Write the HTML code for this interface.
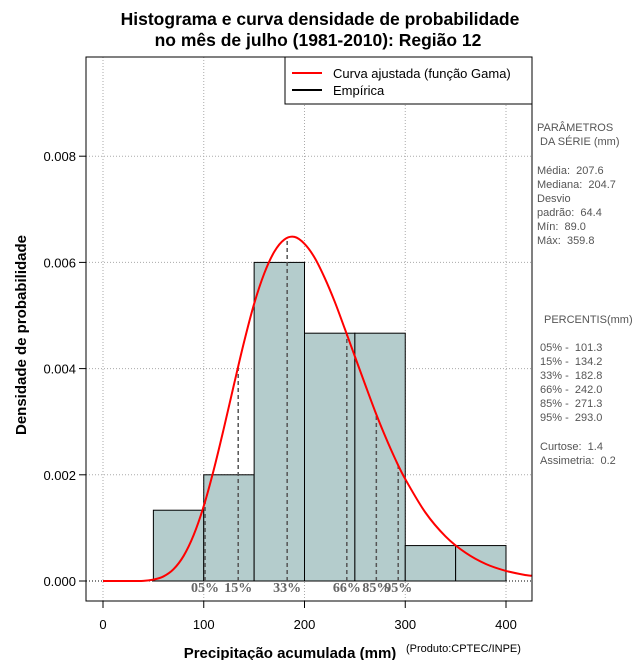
<!DOCTYPE html>
<html><head><meta charset="utf-8"><style>
body{margin:0;background:#fff;}
svg text{font-family:"Liberation Sans",sans-serif;white-space:pre;}
</style></head><body>
<svg id="c" width="640" height="660" xmlns="http://www.w3.org/2000/svg">
<text x="320" y="25" text-anchor="middle" font-size="17.5" font-weight="bold">Histograma e curva densidade de probabilidade</text>
<text x="318" y="46" text-anchor="middle" font-size="17.5" font-weight="bold">no mês de julho (1981-2010): Região 12</text>
<g id="grid"></g><g id="bars"></g><g id="pct"></g><g id="curve"></g>
<rect x="86" y="57" width="446" height="544" fill="none" stroke="#000"/>
<g id="axes"></g>
<g>
<rect x="285" y="57" width="247" height="47" fill="#fff" stroke="#000"/>
<line x1="292" y1="73" x2="322" y2="73" stroke="red" stroke-width="2"/>
<text x="333" y="78" font-size="13">Curva ajustada (função Gama)</text>
<line x1="292" y1="90" x2="322" y2="90" stroke="#000" stroke-width="2"/>
<text x="333" y="95" font-size="13">Empírica</text>
</g>
<text x="290" y="658" text-anchor="middle" font-size="15" font-weight="bold">Precipitação acumulada (mm)</text>
<text x="406" y="652" font-size="11">(Produto:CPTEC/INPE)</text>
<text transform="translate(26,335) rotate(-90)" text-anchor="middle" font-size="15" font-weight="bold">Densidade de probabilidade</text>
<g font-size="11" fill="#555">
<text x="537" y="131">PARÂMETROS</text><text x="537" y="145"> DA SÉRIE (mm)</text>
<text x="537" y="174">Média:  207.6</text><text x="537" y="188">Mediana:  204.7</text>
<text x="537" y="202">Desvio</text><text x="537" y="216">padrão:  64.4</text>
<text x="537" y="230">Mín:  89.0</text><text x="537" y="244">Máx:  359.8</text>
<text x="544" y="323">PERCENTIS(mm)</text>
<text x="540" y="351">05% -  101.3</text><text x="540" y="365">15% -  134.2</text>
<text x="540" y="379">33% -  182.8</text><text x="540" y="393">66% -  242.0</text>
<text x="540" y="407">85% -  271.3</text><text x="540" y="421">95% -  293.0</text>
<text x="540" y="450">Curtose:  1.4</text><text x="540" y="464">Assimetria:  0.2</text>
</g>
</svg>
<script>
const binStarts=[50,100,150,200,250,300,350];
const binWidth=50;
const binDensity=[0.001333,0.002,0.006,0.004667,0.004667,0.000667,0.000667];
const curveX=[0,20,40,50,60,70,80,90,100,110,120,130,140,150,160,170,180,190,200,210,220,230,240,250,260,270,280,290,300,320,340,360,380,400,420,426];
const curveY=[0,0,0.000003,0.0000257,0.000086,0.000222,0.000472,0.000866,0.001411,0.0021,0.00288,0.0037,0.0045,0.00522,0.00579,0.0062,0.00643,0.00648,0.00635,0.00609,0.00571,0.00526,0.00475,0.00423,0.00371,0.0032,0.00273,0.0023,0.00192,0.00129,0.00084,0.00053,0.00032,0.00019,0.00011,0.0001];
const pctLabels=["05%","15%","33%","66%","85%","95%"];
const pctValues=[101.3,134.2,182.8,242.0,271.3,293.0];
const xTicks=[0,100,200,300,400];
const yTicks=[0,0.002,0.004,0.006,0.008];
const yTickLabels=["0.000","0.002","0.004","0.006","0.008"];
const NS="http://www.w3.org/2000/svg";
const sx=v=>103+v*1.0075, sy=v=>581-v*53100;
function mk(p,t,a){const e=document.createElementNS(NS,t);for(const k in a)e.setAttribute(k,a[k]);document.getElementById(p).appendChild(e);return e;}
function dens(x){for(let i=1;i<curveX.length;i++){if(x<=curveX[i]){const f=(x-curveX[i-1])/(curveX[i]-curveX[i-1]);return curveY[i-1]+f*(curveY[i]-curveY[i-1]);}}return 0;}
xTicks.forEach(t=>{const l=mk('grid','line',{x1:sx(t),x2:sx(t),y1:57,y2:601,stroke:'#aaa','stroke-dasharray':'1,2'});

mk('axes','line',{x1:sx(t),x2:sx(t),y1:601,y2:608,stroke:'#000'});
const tx=mk('axes','text',{x:sx(t),y:629,'text-anchor':'middle','font-size':13});tx.textContent=t;
});
yTicks.forEach((t,i)=>{const l=mk('grid','line',{x1:86,x2:532,y1:sy(t),y2:sy(t),stroke:'#aaa','stroke-dasharray':'1,2'});

mk('axes','line',{x1:79,x2:86,y1:sy(t),y2:sy(t),stroke:'#000'});
const tx=mk('axes','text',{x:76,y:sy(t)+5,'text-anchor':'end','font-size':13});tx.textContent=yTickLabels[i];
});
binStarts.forEach((b,i)=>{const r=mk('bars','rect',{x:sx(b),y:sy(binDensity[i]),width:sx(b+binWidth)-sx(b),height:sy(0)-sy(binDensity[i]),fill:'#b4cccc',stroke:'#000'});
});
const bl=mk('bars','line',{x1:86,x2:532,y1:sy(0),y2:sy(0),stroke:'#000','stroke-dasharray':'1,2'});

pctValues.forEach((v,i)=>{const l=mk('pct','line',{x1:sx(v),x2:sx(v),y1:sy(0),y2:sy(dens(v)),stroke:'#555','stroke-width':1.5,'stroke-dasharray':'4,3'});

const t=mk('pct','text',{x:sx(v),y:592,'text-anchor':'middle','font-size':14,'font-weight':'bold',fill:'#666',style:'font-family:"Liberation Serif",serif'});t.textContent=pctLabels[i];
});
const P=curveX.map((x,i)=>[sx(x),sy(curveY[i])]);
let d='M'+P[0][0]+','+P[0][1];
for(let i=0;i<P.length-1;i++){const p0=P[Math.max(0,i-1)],p1=P[i],p2=P[i+1],p3=P[Math.min(P.length-1,i+2)];
const c1=[p1[0]+(p2[0]-p0[0])/6,p1[1]+(p2[1]-p0[1])/6],c2=[p2[0]-(p3[0]-p1[0])/6,p2[1]-(p3[1]-p1[1])/6];
d+=`C${c1[0]},${c1[1]} ${c2[0]},${c2[1]} ${p2[0]},${p2[1]}`;}
const p=mk('curve','path',{d:d,fill:'none',stroke:'red','stroke-width':2});

</script>
</body></html>
